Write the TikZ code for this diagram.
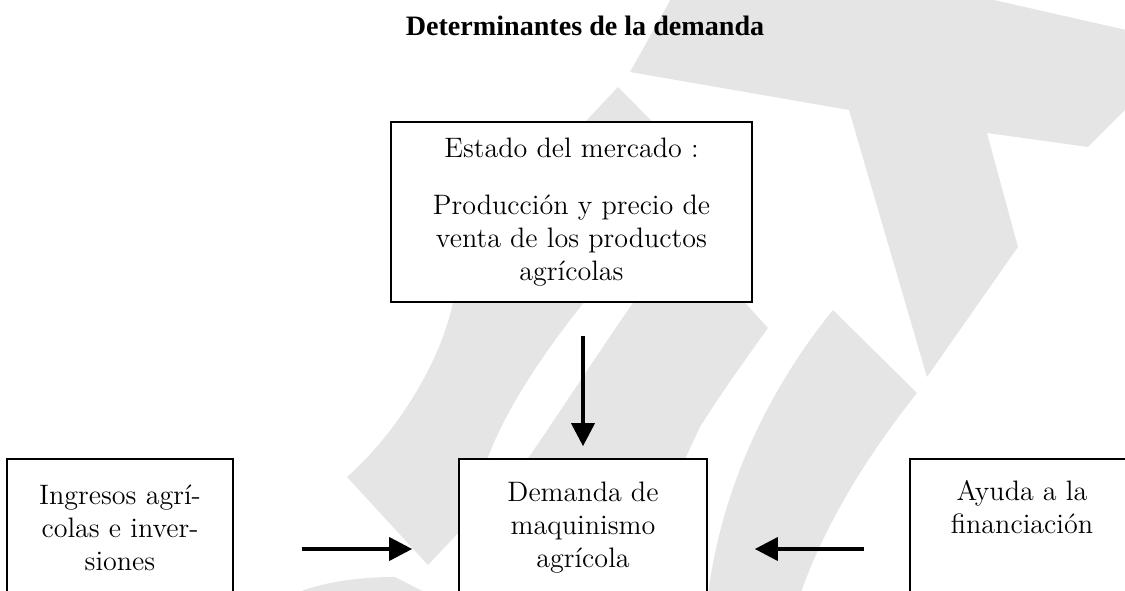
\documentclass[tikz,border=0pt]{standalone}
\usepackage{fontspec}
\newfontfamily\titulofont{Liberation Serif}
\usetikzlibrary{arrows.meta}
\definecolor{marca}{RGB}{229,229,229}

\begin{document}
\begin{tikzpicture}[
		caja/.style={draw, line width=0.7pt, fill=white, align=center, inner sep=0pt, font=\fontsize{12}{14.1}\selectfont},
		flecha/.style={line width=1.6pt, -{Triangle[length=9.8pt, width=9.8pt]}}
	]
		\useasboundingbox (0, 0) rectangle (16.875, 8.85);
		\clip (0, 0) rectangle (16.875, 8.85);
		% marca de agua
		\begin{scope}[x=0.015cm, y=-0.015cm, shift={(0cm, 8.85cm)}]
			\fill[marca] (630, 72) -- (676, -10) -- (950, -10) -- (1135, 32) -- (1135, 100) -- (1088, 147) -- (987, 133) -- (1018, 247) -- (927, 377) -- (849, 110) -- cycle;
			\fill[marca] (618, 87) -- (540, 170) -- (700, 170) -- cycle;
			\fill[marca] (455, 290) -- (452, 307) .. controls (440, 360) and (400, 430) .. (347, 477) -- (428, 565) -- (480, 510) -- (487, 460) .. controls (505, 410) and (545, 350) .. (590, 295) -- cycle;
			\fill[marca] (628, 295) -- (738, 295) -- (768, 328) .. controls (745, 360) and (720, 395) .. (700, 427) -- (680, 470) -- (520, 470) .. controls (555, 420) and (600, 350) .. (633, 303) -- cycle;
			\fill[marca] (833, 310) -- (917, 393) .. controls (880, 440) and (830, 510) .. (800, 595) -- (708, 595) .. controls (720, 500) and (760, 400) .. (833, 310) -- cycle;
			\fill[marca] (292, 595) .. controls (320, 582) and (360, 577) .. (395, 577) -- (430, 595) -- cycle;
		\end{scope}
		\node[font=\titulofont\bfseries\fontsize{12}{14}\selectfont] (titulo) at (8.775, 8.46) {Determinantes de la demanda};
		\node[caja, minimum width=5.415cm, minimum height=2.7cm] (mercado) at (8.5725, 5.67) {Estado del mercado :\\[10pt]Producción y precio de\\venta de los productos\\agrícolas};
		\node[caja, minimum width=3.72cm, minimum height=2.07cm] (demanda) at (8.745, 0.93) {Demanda de\\maquinismo\\agrícola};
		\node[caja, minimum width=3.39cm, minimum height=2.07cm] (ingresos) at (1.8, 0.93) {Ingresos agrí-\\colas e inver-\\siones};
		\node[caja, minimum width=3.36cm, minimum height=2.07cm] (ayuda) at (15.33, 0.93) {Ayuda a la\\financiación\\\strut};
		\draw[flecha, shorten <=0.495cm, shorten >=0.18cm] (mercado.south -| demanda.north) -- (demanda.north);
		\draw[flecha, shorten <=1.02cm, shorten >=0.69cm] ([yshift=-0.315cm]ingresos.east) -- ([yshift=-0.315cm]demanda.west);
		\draw[flecha, shorten <=0.675cm, shorten >=0.705cm] ([yshift=-0.315cm]ayuda.west) -- ([yshift=-0.315cm]demanda.east);
	\end{tikzpicture}
\end{document}
